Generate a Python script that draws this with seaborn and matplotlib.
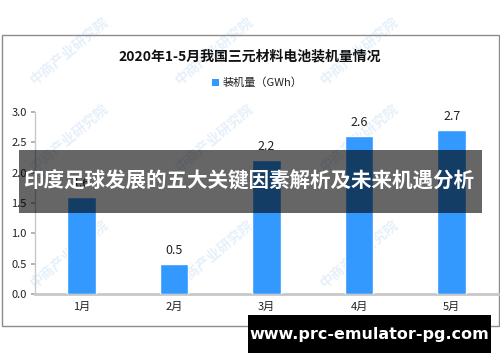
import matplotlib
matplotlib.use("Agg")
import matplotlib.pyplot as plt
import seaborn as sns
import pandas as pd
from matplotlib.patches import Rectangle

months = ["1月", "2月", "3月", "4月", "5月"]
values = [1.6, 0.5, 2.2, 2.6, 2.7]
yticks = [0.0, 0.5, 1.0, 1.5, 2.0, 2.5, 3.0]
title = "2020年1-5月我国三元材料电池装机量情况"
legend_label = "装机量（GWh）"
banner = "印度足球发展的五大关键因素解析及未来机遇分析"
url = "www.prc-emulator-pg.com"
watermark = "中商产业研究院"

sns.set_theme(style="white")
plt.rcParams['font.family'] = ['Noto Sans CJK SC', 'DejaVu Sans']

df = pd.DataFrame({"month": months, "value": values})

fig = plt.figure(figsize=(5, 3.62), dpi=100)
# outer frame
fig.patches.append(Rectangle((0.003, 0.0994), 0.994, 0.8036, transform=fig.transFigure,
                             fill=False, edgecolor="#8c8c8c", linewidth=1.0, zorder=0))

# faint watermarks
for (wx, wy) in [(0.14, 0.86), (0.43, 0.86), (0.72, 0.86),
                 (0.14, 0.62), (0.43, 0.62), (0.72, 0.62),
                 (0.14, 0.30), (0.43, 0.30), (0.72, 0.30)]:
    fig.text(wx, wy, watermark, rotation=40, color="#e6f0fa", fontsize=10,
             ha="center", va="center", fontweight="bold", zorder=-5)

ax = fig.add_axes([0.07, 0.188, 0.926, 0.503])
ax.set_zorder(2)
ax.patch.set_alpha(0)
sns.barplot(data=df, x="month", y="value", color="#3399ff", width=0.31,
            saturation=1, ax=ax, zorder=3)
ax.set_ylim(0, 3.0)
ax.set_xlim(-0.5, 4.5)
ax.set_yticks(yticks)
ax.set_yticklabels([f"{t:.1f}" for t in yticks], fontsize=8, color="#222222")
ax.tick_params(axis="x", labelsize=8, colors="#222222", length=0, pad=6)
ax.tick_params(axis="y", length=3, color="#aaaaaa", left=True, pad=3)
ax.set_xlabel("")
ax.set_ylabel("")
for s in ["top", "right"]:
    ax.spines[s].set_visible(False)
ax.spines["left"].set_color("#c8c8c8")
ax.spines["left"].set_linewidth(1.0)
ax.spines["bottom"].set_color("#c8c8c8")
ax.spines["bottom"].set_linewidth(2.0)
ax.bar_label(ax.containers[0], labels=[f"{v:.1f}" for v in values], padding=5,
             fontsize=9, color="#222222")

fig.text(0.5, 0.843, title, ha="center", va="center", fontsize=10, fontweight="bold",
         color="#111111")
fig.patches.append(Rectangle((0.424, 0.762), 0.014, 0.019, transform=fig.transFigure,
                             facecolor="#3399ff", edgecolor="none"))
fig.text(0.446, 0.771, legend_label, ha="left", va="center", fontsize=8, color="#222222")

# overlay banner (drawn above everything)
fig.patches.append(Rectangle((0.038, 0.412), 0.926, 0.174, transform=fig.transFigure,
                             facecolor="black", alpha=0.6, edgecolor="none", zorder=10))
fig.text(0.498, 0.499, banner, ha="center", va="center", fontsize=14.8, fontweight="bold",
         color="white", zorder=11)

# url box
fig.patches.append(Rectangle((0.496, 0.025), 0.486, 0.105, transform=fig.transFigure,
                             facecolor="black", edgecolor="none", zorder=10))
fig.text(0.739, 0.077, url, ha="center", va="center", fontsize=11.5, fontweight="bold",
         color="white", family=["DejaVu Sans"], zorder=11)

fig.savefig("out.png", dpi=100)
